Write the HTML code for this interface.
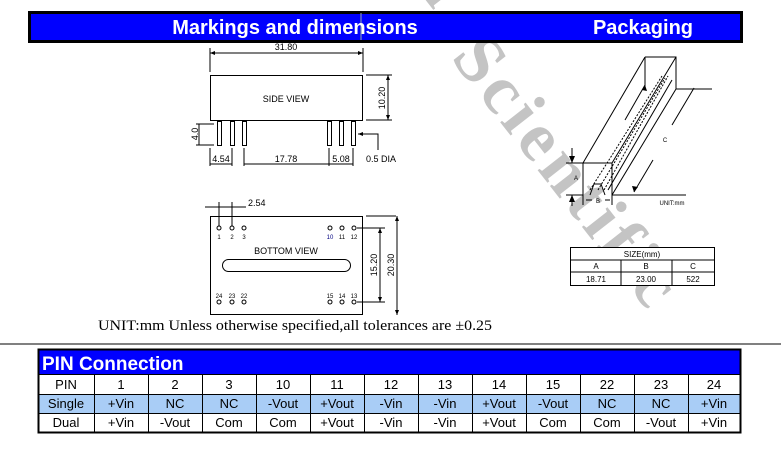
<!DOCTYPE html>
<html><head><meta charset="utf-8"><style>
body{margin:0;background:#fff;width:781px;height:454px;overflow:hidden}
svg{display:block}
.s{font-family:"Liberation Sans",sans-serif}
.r{font-family:"Liberation Serif",serif}
</style></head><body>
<svg width="781" height="454" viewBox="0 0 781 454" xmlns="http://www.w3.org/2000/svg" class="s">
<text class="r" x="0" y="0" transform="translate(450,58) rotate(52)" font-size="70" font-weight="bold" fill="#c4c4c4" letter-spacing="5">Scientific</text>
<text class="r" x="0" y="0" transform="translate(410,-20) rotate(52)" font-size="70" font-weight="bold" fill="#c4c4c4">n</text>
<rect x="29.5" y="12.5" width="712" height="29" fill="#0000ff" stroke="#000" stroke-width="3"/>
<line x1="361" y1="13" x2="361" y2="40" stroke="#9aa" stroke-width="1"/>
<text x="295" y="34" font-size="20" font-weight="bold" fill="#fff" text-anchor="middle">Markings and dimensions</text>
<text x="643" y="34" font-size="20" font-weight="bold" fill="#fff" text-anchor="middle">Packaging</text>

<g stroke="#000" stroke-width="1" fill="none">
<line x1="210" y1="53" x2="363" y2="53"/>
<line x1="210" y1="48" x2="210" y2="72"/><line x1="363" y1="48" x2="363" y2="72"/>
<rect x="210.5" y="75.5" width="152" height="45"/>
<line x1="366" y1="75" x2="392" y2="75"/><line x1="366" y1="120" x2="392" y2="120"/>
<line x1="388" y1="75" x2="388" y2="120"/>
<rect x="217.5" y="121.5" width="4" height="24"/><rect x="230.5" y="121.5" width="4" height="24"/><rect x="242.5" y="121.5" width="4" height="24"/>
<rect x="327.5" y="121.5" width="4" height="24"/><rect x="339.5" y="121.5" width="4" height="24"/><rect x="351.5" y="121.5" width="4" height="24"/>
<line x1="196" y1="124" x2="214" y2="124"/><line x1="196" y1="145" x2="214" y2="145"/><line x1="199" y1="124" x2="199" y2="145"/>
<line x1="210" y1="148" x2="210" y2="166"/><line x1="232" y1="148" x2="232" y2="166"/>
<line x1="210" y1="164" x2="232" y2="164"/>
<line x1="244" y1="148" x2="244" y2="166"/><line x1="329" y1="148" x2="329" y2="166"/>
<line x1="244" y1="164" x2="329" y2="164"/>
<line x1="353" y1="148" x2="353" y2="166"/><line x1="329" y1="164" x2="353" y2="164"/>
<polyline points="358,134 378,134 378,150"/>
<rect x="210.5" y="216.5" width="152" height="98"/>
<line x1="219" y1="202" x2="219" y2="226"/><line x1="232" y1="202" x2="232" y2="226"/>
<line x1="205" y1="207" x2="246" y2="207"/>
<line x1="357" y1="228" x2="385" y2="228"/><line x1="357" y1="302" x2="385" y2="302"/>
<line x1="380" y1="228" x2="380" y2="302"/>
<line x1="366" y1="216" x2="396" y2="216"/><line x1="397" y1="216" x2="397" y2="315"/>
<rect x="222.5" y="259.5" width="128" height="12" rx="6"/>
<circle cx="219" cy="228" r="2"/><circle cx="232" cy="228" r="2"/><circle cx="244" cy="228" r="2"/>
<circle cx="330" cy="228" r="2"/><circle cx="342" cy="228" r="2"/><circle cx="354" cy="228" r="2"/>
<circle cx="219" cy="302" r="2"/><circle cx="232" cy="302" r="2"/><circle cx="244" cy="302" r="2"/>
<circle cx="330" cy="302" r="2"/><circle cx="342" cy="302" r="2"/><circle cx="354" cy="302" r="2"/>
<polyline points="583,195 583,163 612,163 612,195"/>
<line x1="583" y1="163" x2="645" y2="57"/><line x1="612" y1="163" x2="676" y2="57"/>
<polyline points="645,57 676,57 676,89"/>
<line x1="645" y1="57" x2="645" y2="89"/>
<line x1="612" y1="195" x2="676" y2="89"/>
<line x1="676" y1="89" x2="712" y2="89"/>
<line x1="612" y1="195" x2="686" y2="195"/>
<line x1="566" y1="163" x2="583" y2="163"/><line x1="566" y1="195" x2="583" y2="195"/>
<polyline points="590,195 594,184 601,184 605,195" />
<line x1="590" y1="190" x2="662" y2="76" stroke-dasharray="2,1.5"/>
<line x1="604" y1="190" x2="668" y2="76" stroke-dasharray="2,1.5"/>
<line x1="598" y1="190" x2="665" y2="78" stroke-dasharray="2,1.5"/>
<line x1="608" y1="190" x2="672" y2="80"/>
<line x1="625" y1="120" x2="645" y2="85"/>
<line x1="694" y1="88" x2="672" y2="125"/>
<line x1="653" y1="160" x2="634" y2="192"/>
<line x1="572" y1="148" x2="572" y2="163"/><line x1="572" y1="195" x2="572" y2="206"/>
<line x1="583" y1="195" x2="583" y2="205"/><line x1="612" y1="195" x2="612" y2="205"/>
<line x1="586" y1="200" x2="592" y2="200"/><line x1="605" y1="200" x2="610" y2="200"/>
<rect x="570.5" y="247.5" width="144" height="38" fill="#fff"/>
<line x1="570" y1="260" x2="715" y2="260"/><line x1="570" y1="272" x2="715" y2="272"/>
<line x1="621" y1="260" x2="621" y2="285"/><line x1="672" y1="260" x2="672" y2="285"/>
</g>
<g fill="#000">
<polygon points="210,53 215,51 215,55"/><polygon points="363,53 358,51 358,55"/>
<polygon points="388,75 386,80 390,80"/><polygon points="388,120 386,115 390,115"/>
<polygon points="380,228 378,233 382,233"/><polygon points="380,302 378,297 382,297"/>
<polygon points="397,216 395,221 399,221"/><polygon points="397,315 395,310 399,310"/>
<polygon points="358,134 363,132 363,136"/>
<polygon points="572,163 569,156 575,156"/><polygon points="572,195 569,202 575,202"/>
<polygon points="645,85 642,90 647,91"/><polygon points="634,192 632,186 638,187"/>
</g>
<g font-size="9" fill="#000">
<text x="286" y="50" text-anchor="middle">31.80</text>
<text x="286" y="102" text-anchor="middle">SIDE  VIEW</text>
<text transform="translate(385,98) rotate(-90)" text-anchor="middle">10.20</text>
<text transform="translate(198,134) rotate(-90)" text-anchor="middle">4.0</text>
<text x="221" y="162" text-anchor="middle">4.54</text>
<text x="286" y="162" text-anchor="middle">17.78</text>
<text x="341" y="162" text-anchor="middle">5.08</text>
<text x="366" y="162">0.5 DIA</text>
<text x="248" y="206">2.54</text>
<text x="286" y="254" text-anchor="middle">BOTTOM  VIEW</text>
<text transform="translate(377,265) rotate(-90)" text-anchor="middle">15.20</text>
<text transform="translate(394,265) rotate(-90)" text-anchor="middle">20.30</text>
</g>
<g font-size="6" fill="#000" text-anchor="middle">
<text x="219" y="239">1</text><text x="232" y="239">2</text><text x="244" y="239">3</text>
<text x="330" y="239" fill="#000080">10</text><text x="342" y="239">11</text><text x="354" y="239">12</text>
<text x="219" y="298">24</text><text x="232" y="298">23</text><text x="244" y="298">22</text>
<text x="330" y="298">15</text><text x="342" y="298">14</text><text x="354" y="298">13</text>
<text x="576" y="180">A</text><text x="598" y="203">B</text><text x="665" y="142">C</text>
<text x="672" y="205" font-size="6">UNIT:mm</text>
</g>
<g font-size="8" fill="#000" text-anchor="middle">
<text x="642" y="257">SIZE(mm)</text>
<text x="596" y="269">A</text><text x="646" y="269">B</text><text x="693" y="269">C</text>
<text x="596" y="282">18.71</text><text x="646" y="282">23.00</text><text x="693" y="282">522</text>
</g>
<text class="r" x="98" y="330" font-size="15" fill="#000" textLength="394" lengthAdjust="spacingAndGlyphs">UNIT:mm Unless otherwise specified,all tolerances are ±0.25</text>
<line x1="0" y1="344" x2="781" y2="344" stroke="#000" stroke-width="1"/>

<rect x="38" y="350" width="702" height="24" fill="#0000ff"/>
<text x="42" y="370" font-size="19" font-weight="bold" fill="#fff">PIN Connection</text>
<rect x="38" y="394" width="702" height="19" fill="#a9cdf6"/>
<g stroke="#000" stroke-width="1" fill="none">
<rect x="38.5" y="349.5" width="702" height="83" stroke-width="2"/>
<line x1="38" y1="374.5" x2="740" y2="374.5"/>
<line x1="38" y1="394.5" x2="740" y2="394.5"/>
<line x1="38" y1="413.5" x2="740" y2="413.5"/>
<line x1="94.5" y1="374" x2="94.5" y2="432"/><line x1="148.5" y1="374" x2="148.5" y2="432"/>
<line x1="202.5" y1="374" x2="202.5" y2="432"/><line x1="256.5" y1="374" x2="256.5" y2="432"/>
<line x1="310.5" y1="374" x2="310.5" y2="432"/><line x1="364.5" y1="374" x2="364.5" y2="432"/>
<line x1="418.5" y1="374" x2="418.5" y2="432"/><line x1="472.5" y1="374" x2="472.5" y2="432"/>
<line x1="526.5" y1="374" x2="526.5" y2="432"/><line x1="580.5" y1="374" x2="580.5" y2="432"/>
<line x1="634.5" y1="374" x2="634.5" y2="432"/><line x1="688.5" y1="374" x2="688.5" y2="432"/>
</g>
<g font-size="13" fill="#000" text-anchor="middle">
<text x="66" y="389">PIN</text><text x="121" y="389">1</text><text x="175" y="389">2</text><text x="229" y="389">3</text><text x="283" y="389">10</text><text x="337" y="389">11</text><text x="391" y="389">12</text><text x="445" y="389">13</text><text x="499" y="389">14</text><text x="553" y="389">15</text><text x="607" y="389">22</text><text x="661" y="389">23</text><text x="714" y="389">24</text>
<text x="66" y="408">Single</text><text x="121" y="408">+Vin</text><text x="175" y="408">NC</text><text x="229" y="408">NC</text><text x="283" y="408">-Vout</text><text x="337" y="408">+Vout</text><text x="391" y="408">-Vin</text><text x="445" y="408">-Vin</text><text x="499" y="408">+Vout</text><text x="553" y="408">-Vout</text><text x="607" y="408">NC</text><text x="661" y="408">NC</text><text x="714" y="408">+Vin</text>
<text x="66" y="427">Dual</text><text x="121" y="427">+Vin</text><text x="175" y="427">-Vout</text><text x="229" y="427">Com</text><text x="283" y="427">Com</text><text x="337" y="427">+Vout</text><text x="391" y="427">-Vin</text><text x="445" y="427">-Vin</text><text x="499" y="427">+Vout</text><text x="553" y="427">Com</text><text x="607" y="427">Com</text><text x="661" y="427">-Vout</text><text x="714" y="427">+Vin</text>
</g>
</svg>
</body></html>
